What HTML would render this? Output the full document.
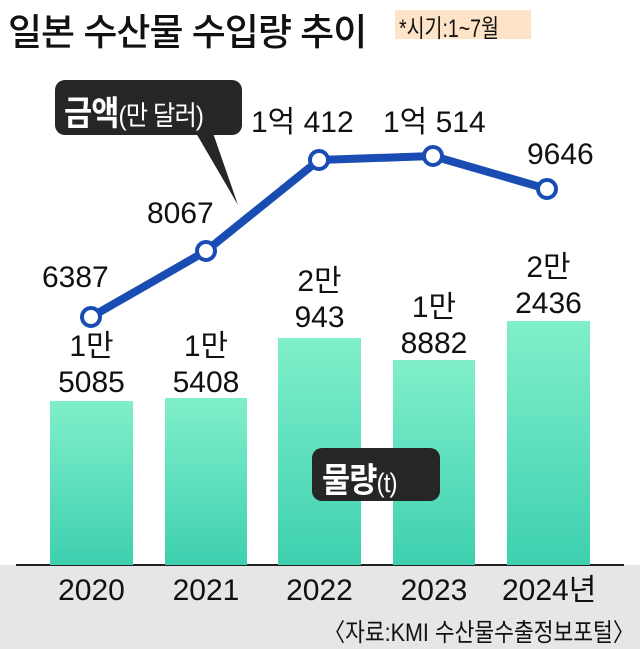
<!DOCTYPE html><html><head><meta charset="utf-8"><style>
body{margin:0;width:640px;height:649px;background:#fff;overflow:hidden;position:relative;font-family:"Liberation Sans Narrow","Liberation Sans","Noto Sans CJK KR",sans-serif}
.t{position:absolute;white-space:nowrap;color:#111}
</style></head><body>
<div style="position:absolute;left:0;top:565px;width:640px;height:84px;background:#e6e6e6"></div>
<div style="position:absolute;left:16px;top:564px;width:608px;height:2px;background:#222"></div>
<div class="t" style="left:8px;top:2px;font-size:37px;font-family:'Liberation Sans','Noto Sans CJK KR',sans-serif;font-weight:500;letter-spacing:-1px">일본 수산물 수입량 추이</div>
<div style="position:absolute;left:395px;top:10px;width:136px;height:29px;background:#fde3c8"></div>
<div class="t" style="left:399px;top:9px;font-size:25px;transform:scaleX(.78);transform-origin:left">*시기:1~7월</div>
<svg width="640" height="649" style="position:absolute;left:0;top:0">
<defs><linearGradient id="g" x1="0" y1="0" x2="0" y2="1"><stop offset="0" stop-color="#80efca"/><stop offset="1" stop-color="#3ed0b0"/></linearGradient></defs>
<rect x="50" y="401" width="83" height="164" fill="url(#g)"/>
<rect x="165" y="398" width="82" height="167" fill="url(#g)"/>
<rect x="278" y="338" width="83" height="227" fill="url(#g)"/>
<rect x="393" y="360" width="82" height="205" fill="url(#g)"/>
<rect x="507" y="321" width="83" height="244" fill="url(#g)"/>
<rect x="55" y="80" width="187" height="55" rx="10" fill="#262626"/>
<polygon points="196,133 213,133 238,205" fill="#262626"/>
<rect x="312" y="448" width="128" height="53" rx="10" fill="#262626"/>
<polyline points="91,317 206,251 319,160 433,156 547,189" fill="none" stroke="#1a4db3" stroke-width="8" stroke-linejoin="round"/>
<g fill="#fff" stroke="#1a4db3" stroke-width="4">
<circle cx="91" cy="317" r="9"/><circle cx="206" cy="251" r="9"/><circle cx="319" cy="160" r="9"/><circle cx="433" cy="156" r="9"/><circle cx="547" cy="189" r="9"/></g>
</svg>
<div class="t" style="left:64px;top:86px;font-size:34px;color:#fff;font-family:'Liberation Sans','Noto Sans CJK KR',sans-serif;font-weight:bold;letter-spacing:-1px;transform:scaleX(.9);transform-origin:left">금액<span style="font-size:27px;font-weight:normal">(만 달러)</span></div>
<div class="t" style="left:322px;top:453px;font-size:34px;color:#fff;font-family:'Liberation Sans','Noto Sans CJK KR',sans-serif;font-weight:bold;letter-spacing:-1px;transform:scaleX(.9);transform-origin:left">물량<span style="font-size:27px;font-weight:normal">(t)</span></div>
<div style="position:absolute;left:0;top:0;width:640px;font-size:30px;line-height:36px">
<div class="t" style="left:42px;top:260px">6387</div>
<div class="t" style="left:147px;top:196px">8067</div>
<div class="t" style="left:251px;top:105px">1억 412</div>
<div class="t" style="left:383px;top:105px">1억 514</div>
<div class="t" style="left:527px;top:137px">9646</div>
<div class="t" style="left:50px;width:83px;text-align:center;top:329px">1만<br>5085</div>
<div class="t" style="left:165px;width:82px;text-align:center;top:329px">1만<br>5408</div>
<div class="t" style="left:278px;width:83px;text-align:center;top:264px">2만<br>943</div>
<div class="t" style="left:393px;width:82px;text-align:center;top:290px">1만<br>8882</div>
<div class="t" style="left:507px;width:83px;text-align:center;top:250px">2만<br>2436</div>
<div class="t" style="left:50px;width:83px;text-align:center;top:573px">2020</div>
<div class="t" style="left:165px;width:82px;text-align:center;top:573px">2021</div>
<div class="t" style="left:278px;width:83px;text-align:center;top:573px">2022</div>
<div class="t" style="left:393px;width:82px;text-align:center;top:573px">2023</div>
<div class="t" style="left:502px;top:573px">2024년</div>
</div>
<div class="t" style="right:6px;top:613px;font-size:25px;transform:scaleX(.86);transform-origin:right">〈자료:KMI 수산물수출정보포털〉</div>
</body></html>
